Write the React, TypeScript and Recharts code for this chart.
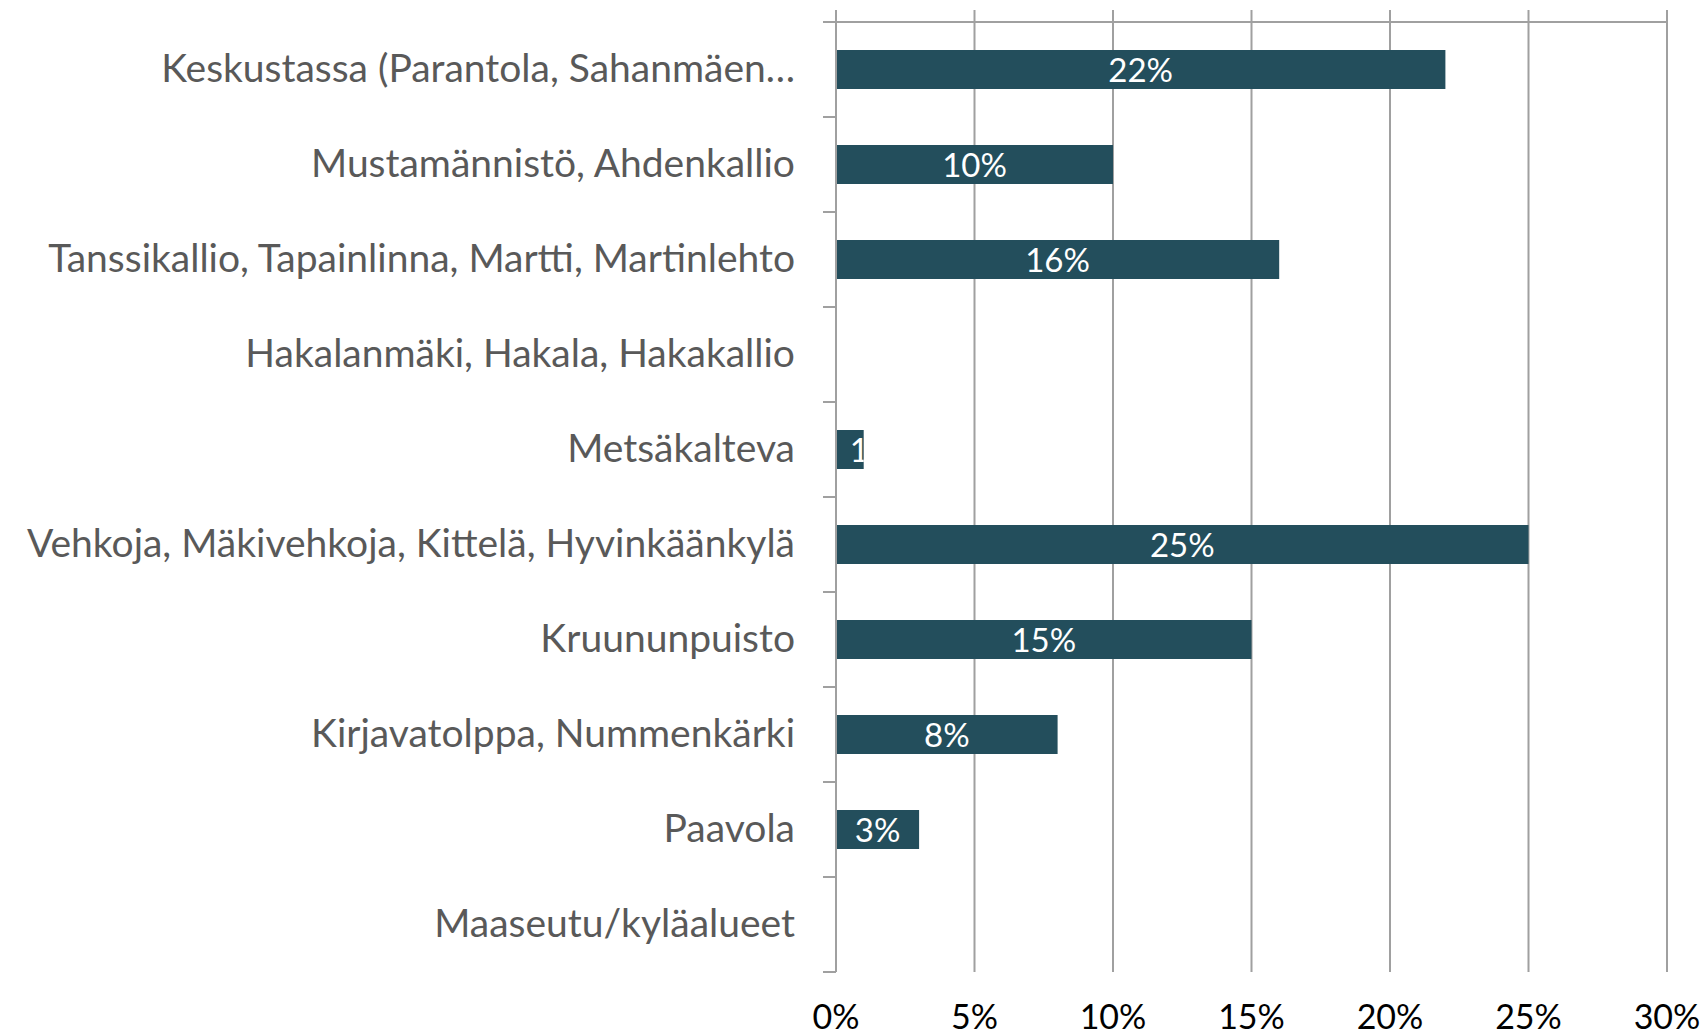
import React from "react";
import { BarChart, Bar, XAxis, YAxis, CartesianGrid, LabelList } from "recharts";

const categories = [
  "Keskustassa (Parantola, Sahanmäen…",
  "Mustamännistö, Ahdenkallio",
  "Tanssikallio, Tapainlinna, Martti, Martinlehto",
  "Hakalanmäki, Hakala, Hakakallio",
  "Metsäkalteva",
  "Vehkoja, Mäkivehkoja, Kittelä, Hyvinkäänkylä",
  "Kruununpuisto",
  "Kirjavatolppa, Nummenkärki",
  "Paavola",
  "Maaseutu/kyläalueet",
];
const values = [22, 10, 16, 0, 1, 25, 15, 8, 3, 0];
const xTicks = [0, 5, 10, 15, 20, 25, 30];

const data = categories.map((name, i) => ({ name, value: values[i] }));

const FONT = "Lato, 'Open Sans', 'DejaVu Sans', sans-serif";
const BAR_COLOR = "#234e5c";
const GRID_COLOR = "#a0a0a0";
const CAT_TICK_SIZE = 13;
const CAT_TICK_MARGIN = 28;
const TOP_MARGIN = 10;
const TOP_AXIS_HEIGHT = 12;
const PLOT_TOP = TOP_MARGIN + TOP_AXIS_HEIGHT;
const LABEL_FONT = 33;

const EmptyTick = () => <g />;

const ValueTick = (props: any) => {
  const { x, y, payload } = props;
  return (
    <g>
      <line x1={x} x2={x} y1={PLOT_TOP - TOP_AXIS_HEIGHT} y2={PLOT_TOP} stroke={GRID_COLOR} strokeWidth={2} />
      <text x={x} y={y} dy="0.71em" textAnchor="middle" fill="#000000" fontSize={34} fontFamily={FONT}>
        {`${payload.value}%`}
      </text>
    </g>
  );
};

const CategoryTick = (props: any) => {
  const { x, y, payload, index, visibleTicksCount } = props;
  const half = payload && typeof payload.offset === "number" ? payload.offset : 47.5;
  const axisX = x + CAT_TICK_SIZE + CAT_TICK_MARGIN;
  return (
    <g>
      <line x1={axisX - CAT_TICK_SIZE} x2={axisX} y1={y - half} y2={y - half} stroke={GRID_COLOR} strokeWidth={2} />
      {index === visibleTicksCount - 1 && (
        <line x1={axisX - CAT_TICK_SIZE} x2={axisX} y1={y + half} y2={y + half} stroke={GRID_COLOR} strokeWidth={2} />
      )}
      <text x={x} y={y - 3} textAnchor="end" dominantBaseline="central" fill="#595959" fontSize={39} fontFamily={FONT}>
        {payload.value}
      </text>
    </g>
  );
};

const ValueLabel = (props: any) => {
  const vb = props.viewBox || {};
  const x = props.x ?? vb.x;
  const y = props.y ?? vb.y;
  const width = props.width ?? vb.width;
  const height = props.height ?? vb.height;
  const { value, index } = props;
  if (!value || !width) return null;
  const text = `${value}%`;
  const est = text.length * LABEL_FONT * 0.55;
  const fits = width >= est;
  const cx = x + width / 2;
  const id = `bar-clip-${index}`;
  return (
    <g>
      <defs>
        <clipPath id={id}>
          <rect x={x} y={y} width={width} height={height} />
        </clipPath>
      </defs>
      <text
        x={cx}
        y={y + height / 2 - 1}
        textAnchor={fits ? "middle" : "start"}
        dominantBaseline="central"
        fill="#ffffff"
        fontSize={LABEL_FONT}
        fontFamily={FONT}
        clipPath={`url(#${id})`}
      >
        {text}
      </text>
    </g>
  );
};

export default function App() {
  return (
    <div style={{ position: "absolute", left: 0, top: 0, width: 1702, height: 1034, background: "#fff" }}>
      <BarChart
        width={1702}
        height={1034}
        data={data}
        layout="vertical"
        margin={{ top: TOP_MARGIN, right: 35, left: 0, bottom: 0 }}
        barCategoryGap="29.5%"
      >
        <CartesianGrid vertical horizontal={false} stroke={GRID_COLOR} strokeWidth={2} />
        <XAxis
          xAxisId="top"
          type="number"
          orientation="top"
          domain={[0, 30]}
          ticks={xTicks}
          height={TOP_AXIS_HEIGHT}
          tick={<EmptyTick />}
          tickLine={false}
          interval={0}
          axisLine={{ stroke: GRID_COLOR, strokeWidth: 2 }}
        />
        <XAxis
          type="number"
          domain={[0, 30]}
          ticks={xTicks}
          height={62}
          interval={0}
          axisLine={false}
          tickLine={false}
          tickSize={0}
          tickMargin={33}
          tick={<ValueTick />}
        />
        <YAxis
          type="category"
          dataKey="name"
          width={836}
          interval={0}
          tickSize={CAT_TICK_SIZE}
          tickMargin={CAT_TICK_MARGIN}
          tickLine={false}
          axisLine={{ stroke: GRID_COLOR, strokeWidth: 2 }}
          tick={<CategoryTick />}
        />
        <Bar dataKey="value" fill={BAR_COLOR} isAnimationActive={false}>
          <LabelList dataKey="value" content={<ValueLabel />} />
        </Bar>
      </BarChart>
    </div>
  );
}
